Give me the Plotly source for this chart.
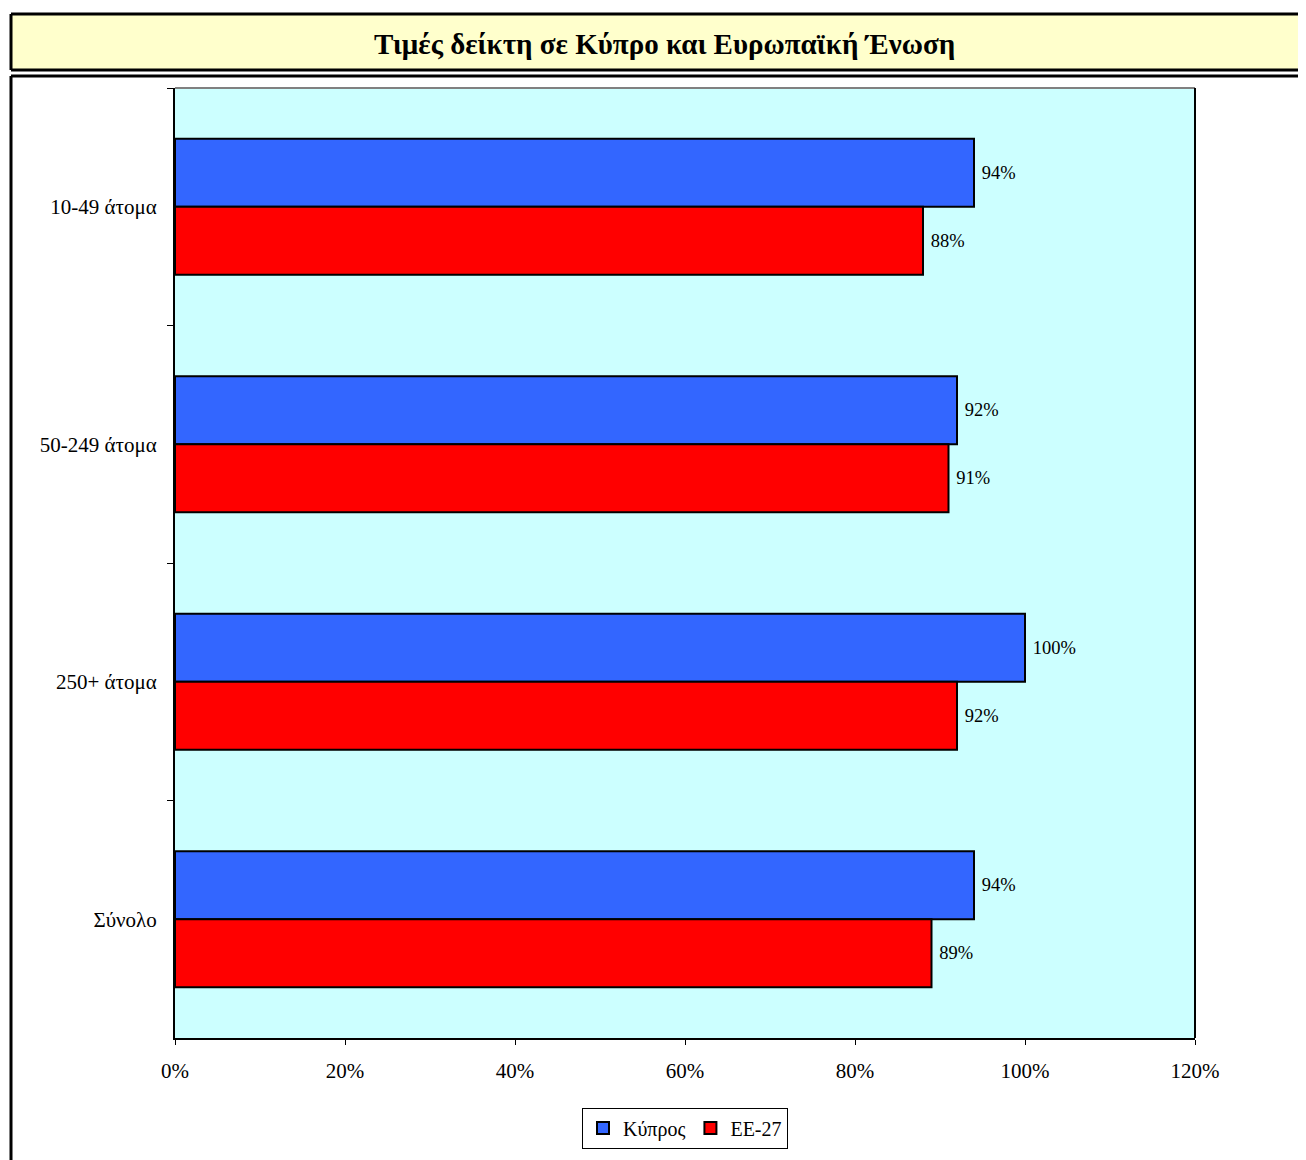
import plotly.graph_objects as go

categories = ["10-49 άτομα", "50-249 άτομα", "250+ άτομα", "Σύνολο"]
cyprus = [94, 92, 100, 94]
eu27 = [88, 91, 92, 89]
series_names = ["Κύπρος", "ΕΕ-27"]
title_text = "Τιμές δείκτη σε Κύπρο και Ευρωπαϊκή Ένωση"
x_ticks = [0, 20, 40, 60, 80, 100, 120]

# page has an 8px body margin; screen coordinates below
OFF = 8
SW, SH = 1306, 1160
W, H = SW - OFF, SH - OFF
L, R, T, B = 175, 1195, 88, 1038
FONT = "Liberation Serif, Times New Roman, serif"


def px(x):
    return (x - L) / (R - L)


def py(y):
    return (B - y) / (B - T)


fig = go.Figure()
fig.add_trace(go.Bar(
    y=categories, x=cyprus, name=series_names[0], orientation="h",
    marker=dict(color="#3366FF", line=dict(color="black", width=2)),
    text=[f"\u00a0{v}%" for v in cyprus], textposition="outside",
    textfont=dict(family=FONT, size=18.5, color="black"), cliponaxis=False,
))
fig.add_trace(go.Bar(
    y=categories, x=eu27, name=series_names[1], orientation="h",
    marker=dict(color="#FF0000", line=dict(color="black", width=2)),
    text=[f"\u00a0{v}%" for v in eu27], textposition="outside",
    textfont=dict(family=FONT, size=18.5, color="black"), cliponaxis=False,
))

BL = dict(color="black", width=3)
XR = px(1340)
shapes = [
    # title box fill and borders (open on the right, as it runs off the page)
    dict(type="rect", xref="paper", yref="paper", x0=px(11), x1=XR, y0=py(70), y1=py(14),
         fillcolor="#FFFFCC", line=dict(width=0), layer="below"),
    dict(type="line", xref="paper", yref="paper", x0=px(11), x1=XR, y0=py(14), y1=py(14), line=BL),
    dict(type="line", xref="paper", yref="paper", x0=px(11), x1=XR, y0=py(70), y1=py(70), line=BL),
    dict(type="line", xref="paper", yref="paper", x0=px(11), x1=px(11), y0=py(70), y1=py(14), line=BL),
    # chart box borders
    dict(type="line", xref="paper", yref="paper", x0=px(11), x1=XR, y0=py(76), y1=py(76), line=BL),
    dict(type="line", xref="paper", yref="paper", x0=px(11), x1=px(11), y0=py(1200), y1=py(76), line=BL),
    # plot area top (gray) and right (black) borders
    dict(type="line", xref="paper", yref="paper", x0=0, x1=1, y0=1, y1=1,
         line=dict(color="#808080", width=2)),
    dict(type="line", xref="paper", yref="paper", x0=1, x1=1, y0=0, y1=1,
         line=dict(color="black", width=2)),
]

fig.update_layout(
    width=W, height=H,
    margin=dict(l=L - OFF, r=SW - R, t=T - OFF, b=SH - B),
    paper_bgcolor="white", plot_bgcolor="#CCFFFF",
    barmode="group", bargap=0.427, bargroupgap=0,
    font=dict(family=FONT, size=21, color="black"),
    showlegend=True,
    legend=dict(orientation="h", x=0.5, xanchor="center", y=py(1128), yanchor="middle",
                bordercolor="black", borderwidth=1, bgcolor="white",
                font=dict(family=FONT, size=20), itemwidth=30, traceorder="normal"),
    xaxis=dict(range=[0, 120], tickvals=x_ticks, ticktext=[f"{v}%" for v in x_ticks],
               ticks="outside", ticklen=5, tickcolor="black", showgrid=False,
               showline=True, linecolor="black", linewidth=2, zeroline=False,
               ticklabelstandoff=8, tickfont=dict(family=FONT, size=21)),
    yaxis=dict(type="category", categoryorder="array", categoryarray=categories,
               autorange="reversed", tickson="boundaries", ticks="outside", ticklen=6,
               tickcolor="black", showgrid=False, showline=True, linecolor="black",
               linewidth=2, ticklabelstandoff=12, tickfont=dict(family=FONT, size=21)),
    shapes=shapes,
    annotations=[dict(text=f"<b>{title_text}</b>", xref="paper", yref="paper",
                      x=px(664), y=py(44), xanchor="center", yanchor="middle",
                      showarrow=False, font=dict(family=FONT, size=29, color="black"))],
)

fig.write_html("out.html")
